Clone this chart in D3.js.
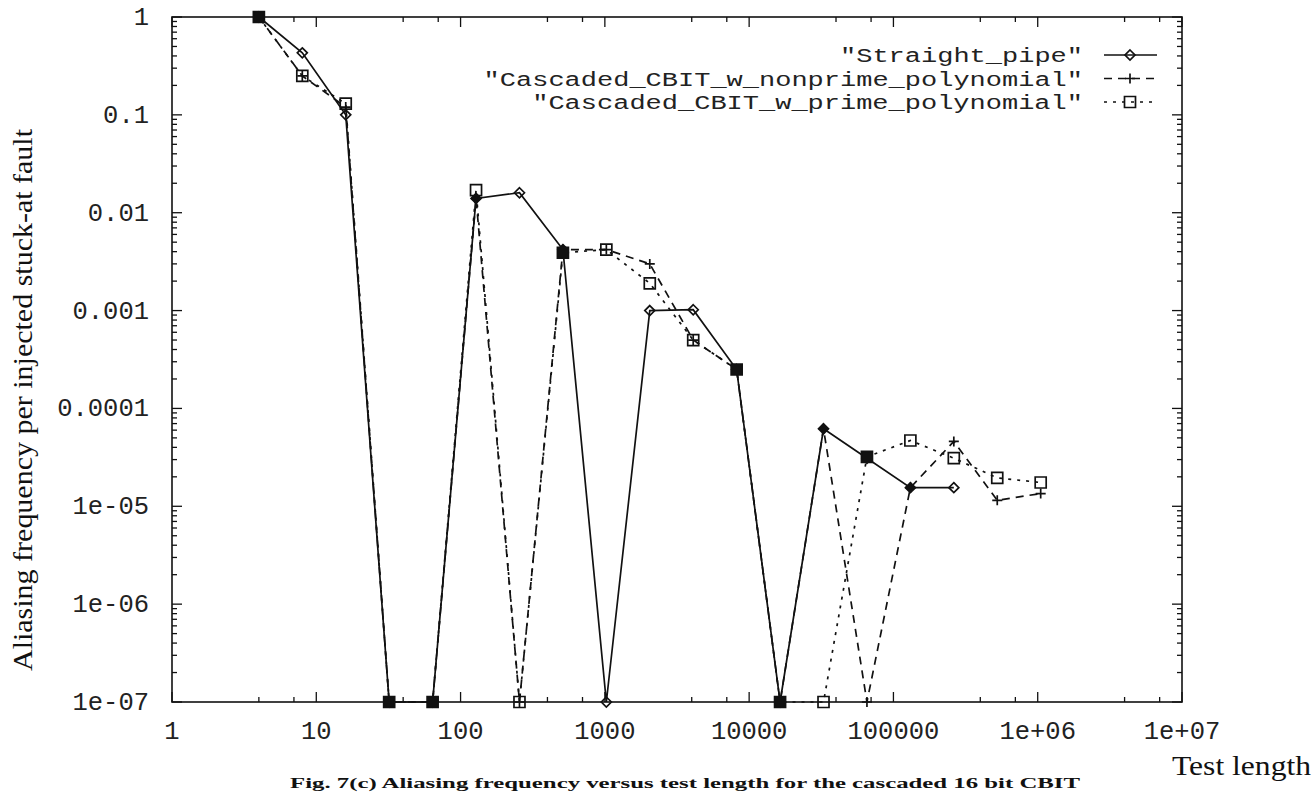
<!DOCTYPE html>
<html><head><meta charset="utf-8">
<script src="https://cdn.jsdelivr.net/npm/d3@7"></script>
<style>
html,body{margin:0;padding:0;background:#fff;overflow:hidden;}
svg{display:block;}
</style></head>
<body>
<svg id="chart" width="1315" height="792"></svg>
<script>
// ---- data ----
const testLength = [4,8,16,32,64,128,256,512,1024,2048,4096,8192,16384,32768,65536,131072,262144,524288,1048576];
const straightPipe = [1,0.43,0.1,1e-7,1e-7,0.014,0.016,0.0042,1e-7,0.001,0.00102,0.00025,1e-7,6.2e-5,3.1e-5,1.55e-5,1.55e-5];
const nonprimePoly = [1,0.25,0.12,1e-7,1e-7,0.014,1e-7,0.0042,0.0042,0.0030,0.0005,0.00025,1e-7,6.2e-5,1e-7,1.55e-5,4.6e-5,1.15e-5,1.35e-5];
const primePoly    = [1,0.25,0.13,1e-7,1e-7,0.017,1e-7,0.0039,0.0042,0.0019,0.0005,0.00025,1e-7,1e-7,3.2e-5,4.7e-5,3.1e-5,1.95e-5,1.75e-5];
const seriesNames = ['"Straight_pipe"','"Cascaded_CBIT_w_nonprime_polynomial"','"Cascaded_CBIT_w_prime_polynomial"'];
const xTickValues = [1,10,100,1000,10000,100000,1e6,1e7];
const xTickLabels = ["1","10","100","1000","10000","100000","1e+06","1e+07"];
const yTickValues = [1,0.1,0.01,0.001,0.0001,1e-5,1e-6,1e-7];
const yTickLabels = ["1","0.1","0.01","0.001","0.0001","1e-05","1e-06","1e-07"];
const yTitle = "Aliasing frequency per injected stuck-at fault";
const xTitle = "Test length";
const caption = "Fig. 7(c) Aliasing frequency versus test length for the cascaded 16 bit CBIT";

// ---- layout ----
const L = 172, R = 1182, T = 17, B = 702;
const svg = d3.select("#chart");
const x = d3.scaleLog().domain([1,1e7]).range([L,R]);
const y = d3.scaleLog().domain([1e-7,1]).range([B,T]);
const ink = "#111";
const mono = "'Liberation Mono','DejaVu Sans Mono',monospace";
const serif = "'Liberation Serif','DejaVu Serif',serif";

// frame
svg.append("rect").attr("x",L).attr("y",T).attr("width",R-L).attr("height",B-T)
  .attr("fill","none").attr("stroke",ink).attr("stroke-width",1.6);

// ticks
const tk = svg.append("g").attr("stroke",ink).attr("stroke-width",1.3);
xTickValues.forEach(v=>{
  const px = x(v);
  tk.append("line").attr("x1",px).attr("x2",px).attr("y1",B).attr("y2",B-10);
  tk.append("line").attr("x1",px).attr("x2",px).attr("y1",T).attr("y2",T+10);
});
for(let d=0; d<7; d++){
  [4,7].forEach(m=>{
    const px = x(m*Math.pow(10,d));
    tk.append("line").attr("x1",px).attr("x2",px).attr("y1",B).attr("y2",B-5);
    tk.append("line").attr("x1",px).attr("x2",px).attr("y1",T).attr("y2",T+5);
  });
}
yTickValues.forEach(v=>{
  const py = y(v);
  tk.append("line").attr("x1",L).attr("x2",L+10).attr("y1",py).attr("y2",py);
  tk.append("line").attr("x1",R).attr("x2",R-10).attr("y1",py).attr("y2",py);
});
for(let d=-7; d<0; d++){
  for(let m=2; m<=9; m++){
    const py = y(m*Math.pow(10,d));
    tk.append("line").attr("x1",L).attr("x2",L+5).attr("y1",py).attr("y2",py);
    tk.append("line").attr("x1",R).attr("x2",R-5).attr("y1",py).attr("y2",py);
  }
}

// tick labels
svg.append("g").selectAll("text").data(xTickValues).join("text")
  .attr("x",d=>x(d)).attr("y",739).attr("text-anchor","middle")
  .attr("font-family",mono).attr("font-size",25.5).attr("fill","#222")
  .text((d,i)=>xTickLabels[i]);
svg.append("g").selectAll("text").data(yTickValues).join("text")
  .attr("x",149).attr("y",d=>y(d)+8).attr("text-anchor","end")
  .attr("font-family",mono).attr("font-size",25.5).attr("fill","#222")
  .text((d,i)=>yTickLabels[i]);

// axis titles
svg.append("text").attr("transform","translate(32,400) rotate(-90)")
  .attr("text-anchor","middle").attr("font-family",serif).attr("font-size",28)
  .attr("textLength",542).attr("lengthAdjust","spacingAndGlyphs")
  .attr("fill",ink).text(yTitle);
svg.append("text").attr("x",1311).attr("y",775).attr("text-anchor","end")
  .attr("font-family",serif).attr("font-size",28)
  .attr("textLength",139).attr("lengthAdjust","spacingAndGlyphs")
  .attr("fill",ink).text(xTitle);
svg.append("text").attr("x",290).attr("y",788)
  .attr("font-family",serif).attr("font-size",15).attr("font-weight","bold")
  .attr("textLength",790).attr("lengthAdjust","spacingAndGlyphs")
  .attr("fill",ink).text(caption);

// markers
const diamond = s=>`M0,${-s}L${s},0L0,${s}L${-s},0Z`;
const square = s=>`M${-s},${-s}H${s}V${s}H${-s}Z`;
const plus = s=>`M${-s},0H${s}M0,${-s}V${s}`;
const series = [
  {vals: straightPipe, dash: null, marker: diamond(5)},
  {vals: nonprimePoly, dash: "8,6", marker: plus(5)},
  {vals: primePoly, dash: "3,6", marker: square(5.5)}
];
// a point is drawn filled where it sits on top of a straight-pipe point shared with another series
const near = (a,b)=> a!==undefined && b!==undefined && Math.abs(y(a)-y(b))<4;
function isFilled(si,i){
  const sp = straightPipe[i];
  if(si===0) return near(sp,nonprimePoly[i]) || near(sp,primePoly[i]);
  return near(sp, series[si].vals[i]);
}
const line = d3.line().x(d=>x(d[0])).y(d=>y(d[1]));
series.forEach((s,si)=>{
  const pts = s.vals.map((v,i)=>[testLength[i], v, i]);
  svg.append("path").datum(pts).attr("d",line).attr("fill","none")
    .attr("stroke",ink).attr("stroke-width",1.7)
    .attr("stroke-dasharray",s.dash);
  svg.append("g").selectAll("path").data(pts).join("path")
    .attr("transform",d=>`translate(${x(d[0])},${y(d[1])})`)
    .attr("d",s.marker)
    .attr("fill",d=>isFilled(si,d[2])?ink:"none")
    .attr("stroke",ink).attr("stroke-width",1.7);
});

// legend
const legY = [55,78.5,102];
series.forEach((s,i)=>{
  const g = svg.append("g");
  g.append("text").attr("x",1083).attr("y",legY[i]+7).attr("text-anchor","end")
    .attr("font-family",mono).attr("font-size",20.5).attr("fill","#222")
    .attr("textLength",seriesNames[i].length*16.2).attr("lengthAdjust","spacingAndGlyphs")
    .text(seriesNames[i]);
  g.append("line").attr("x1",1104).attr("x2",1157).attr("y1",legY[i]).attr("y2",legY[i])
    .attr("stroke",ink).attr("stroke-width",1.7).attr("stroke-dasharray",s.dash);
  g.append("path").attr("transform",`translate(1130,${legY[i]})`).attr("d",s.marker)
    .attr("fill","none").attr("stroke",ink).attr("stroke-width",1.7);
});
</script>
</body></html>
